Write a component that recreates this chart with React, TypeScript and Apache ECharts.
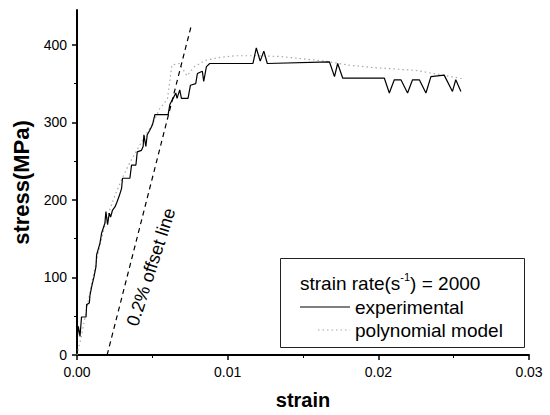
import React, { useEffect, useRef } from "react";
import * as echarts from "echarts";

const expStrain = [
  0.0, 0.00009, 0.0002, 0.0003, 0.0006, 0.00064, 0.00082, 0.00086, 0.00097, 0.00113,
  0.00126, 0.0013, 0.00152, 0.00163, 0.00185, 0.00192, 0.00203, 0.00214, 0.00223, 0.00236,
  0.00252, 0.00263, 0.0028, 0.00296, 0.00302, 0.00351, 0.00362, 0.00391, 0.004, 0.00428,
  0.00439, 0.00444, 0.00457, 0.00466, 0.00483, 0.00501, 0.00517, 0.00605, 0.00616, 0.00638,
  0.00656, 0.00664, 0.00682, 0.00693, 0.00737, 0.00753, 0.00788, 0.00799, 0.00832, 0.00841,
  0.00859, 0.00881, 0.01168, 0.0119, 0.01216, 0.0124, 0.01263, 0.01676, 0.01709, 0.0173,
  0.01764, 0.0204, 0.02073, 0.02106, 0.0215, 0.02194, 0.02227, 0.02272, 0.02316, 0.02349,
  0.02437, 0.02492, 0.02514, 0.02548,
];
const expStress = [
  19, 37, 24, 49, 49, 65, 67, 77, 88, 101,
  114, 129, 144, 157, 170, 185, 168, 183, 178, 187,
  191, 196, 205, 215, 228, 228, 245, 245, 262, 264,
  269, 284, 269, 284, 290, 297, 310, 310, 323, 331,
  338, 331, 342, 331, 331, 348, 350, 363, 366, 353,
  372, 376, 376, 396, 379, 392, 376, 378, 359, 376,
  357, 357, 338, 355, 355, 338, 355, 355, 338, 359,
  361, 340, 355, 340,
];

const polyStrain = [
  0.0, 0.0003, 0.0006, 0.001, 0.0015, 0.002, 0.0025, 0.003, 0.0035, 0.004,
  0.0045, 0.005, 0.0055, 0.006, 0.0063, 0.0068, 0.0073, 0.0078, 0.0085, 0.0095,
  0.0105, 0.012, 0.0135, 0.015, 0.0165, 0.018, 0.0195, 0.021, 0.0225, 0.024, 0.0257,
];
const polyStress = [
  0, 25, 55, 95, 140, 178, 205, 228, 248, 265,
  282, 298, 318, 330, 374, 376, 360, 372, 380, 384,
  386, 386, 385, 382, 379, 374, 371, 369, 367, 362, 356,
];

const offsetStrain = [0.002, 0.0076];
const offsetStress = [0, 426];

const xTicks = [0, 0.01, 0.02, 0.03];
const yMajorTicks = [0, 100, 200, 300, 400];
const yMinorTicks = [50, 150, 250, 350];

const FONT = "'Liberation Sans', Arial, sans-serif";

export default function App() {
  const ref = useRef<HTMLDivElement>(null);
  useEffect(() => {
    if (!ref.current) return;
    const chart = echarts.init(ref.current, null, { renderer: "svg" });
    const zip = (xs: number[], ys: number[]) => xs.map((x, i) => [x, ys[i]]);
    chart.setOption({
      animation: false,
      backgroundColor: "#ffffff",
      textStyle: { fontFamily: FONT },
      grid: { left: 77, top: 10, width: 452, height: 345 },
      xAxis: {
        type: "value",
        min: 0,
        max: 0.03,
        interval: 0.01,
        name: "strain",
        nameLocation: "middle",
        nameGap: 35,
        nameTextStyle: { fontSize: 20, fontWeight: "bold", color: "#000", fontFamily: FONT },
        axisLine: { show: true, lineStyle: { color: "#000", width: 2 } },
        axisTick: { show: true, length: 5, lineStyle: { color: "#000", width: 1.5 } },
        minorTick: { show: true, splitNumber: 2, length: 3, lineStyle: { color: "#000", width: 1 } },
        axisLabel: {
          margin: 10,
          fontSize: 14,
          color: "#000",
          fontFamily: FONT,
          formatter: (v: number) => (xTicks.some((t) => Math.abs(t - v) < 1e-9) ? v.toFixed(2) : ""),
        },
        splitLine: { show: false },
      },
      yAxis: [
        {
          type: "value",
          min: 0,
          max: 445,
          interval: 100,
          name: "stress(MPa)",
          nameLocation: "middle",
          nameGap: 44,
          nameTextStyle: { fontSize: 22, fontWeight: "bold", color: "#000", fontFamily: FONT },
          axisLine: { show: true, lineStyle: { color: "#000", width: 2 } },
          axisTick: {
            show: true,
            length: 5,
            customValues: yMajorTicks,
            lineStyle: { color: "#000", width: 1.5 },
          },
          axisLabel: {
            margin: 10,
            fontSize: 14,
            color: "#000",
            fontFamily: FONT,
            customValues: yMajorTicks,
            formatter: (v: number) => (yMajorTicks.includes(v) ? String(v) : ""),
          },
          splitLine: { show: false },
        },
        {
          type: "value",
          min: 0,
          max: 445,
          position: "left",
          axisLine: { show: false },
          axisTick: {
            show: true,
            length: 3,
            customValues: yMinorTicks,
            lineStyle: { color: "#000", width: 1 },
          },
          axisLabel: { show: false },
          splitLine: { show: false },
        },
      ],
      series: [
        {
          name: "polynomial model",
          type: "line",
          data: zip(polyStrain, polyStress),
          showSymbol: false,
          lineStyle: { color: "#a8a8a8", width: 1.2, type: [1.5, 3] },
          z: 2,
        },
        {
          name: "experimental",
          type: "line",
          data: zip(expStrain, expStress),
          showSymbol: false,
          lineStyle: { color: "#000", width: 1.2 },
          z: 3,
        },
        {
          name: "offset",
          type: "line",
          data: zip(offsetStrain, offsetStress),
          showSymbol: false,
          lineStyle: { color: "#000", width: 1.2, type: [5, 4] },
          z: 3,
        },
      ],
      graphic: [
        {
          type: "text",
          x: 151,
          y: 267,
          rotation: (72 * Math.PI) / 180,
          style: {
            text: "0.2% offset line",
            fontSize: 18,
            fontFamily: FONT,
            fill: "#000",
            align: "center",
            verticalAlign: "middle",
          },
          z: 10,
        },
        {
          type: "rect",
          shape: { x: 280.5, y: 258.5, width: 244, height: 89 },
          style: { fill: "#fff", stroke: "#222", lineWidth: 1 },
          z: 10,
        },
        {
          type: "text",
          x: 300,
          y: 282,
          style: {
            text: "{a|strain rate(s}{b|-1}{a|) = 2000}",
            verticalAlign: "middle",
            rich: {
              a: { fontSize: 19, fontFamily: FONT, fill: "#000", lineHeight: 22, verticalAlign: "bottom" },
              b: { fontSize: 11, fontFamily: FONT, fill: "#000", lineHeight: 22, verticalAlign: "top" },
            },
          },
          z: 11,
        },
        {
          type: "line",
          shape: { x1: 300, y1: 307, x2: 350, y2: 307 },
          style: { stroke: "#000", lineWidth: 1.2 },
          z: 11,
        },
        {
          type: "text",
          x: 355,
          y: 307,
          style: {
            text: "experimental",
            fontSize: 19,
            fontFamily: FONT,
            fill: "#000",
            verticalAlign: "middle",
          },
          z: 11,
        },
        {
          type: "line",
          shape: { x1: 318, y1: 330, x2: 350, y2: 330 },
          style: { stroke: "#a8a8a8", lineWidth: 1.2, lineDash: [1.5, 3] },
          z: 11,
        },
        {
          type: "text",
          x: 355,
          y: 330,
          style: {
            text: "polynomial model",
            fontSize: 19,
            fontFamily: FONT,
            fill: "#000",
            verticalAlign: "middle",
          },
          z: 11,
        },
      ],
    });
    return () => chart.dispose();
  }, []);
  return (
    <div
      ref={ref}
      style={{ position: "absolute", left: 0, top: 0, width: 550, height: 415 }}
    />
  );
}
